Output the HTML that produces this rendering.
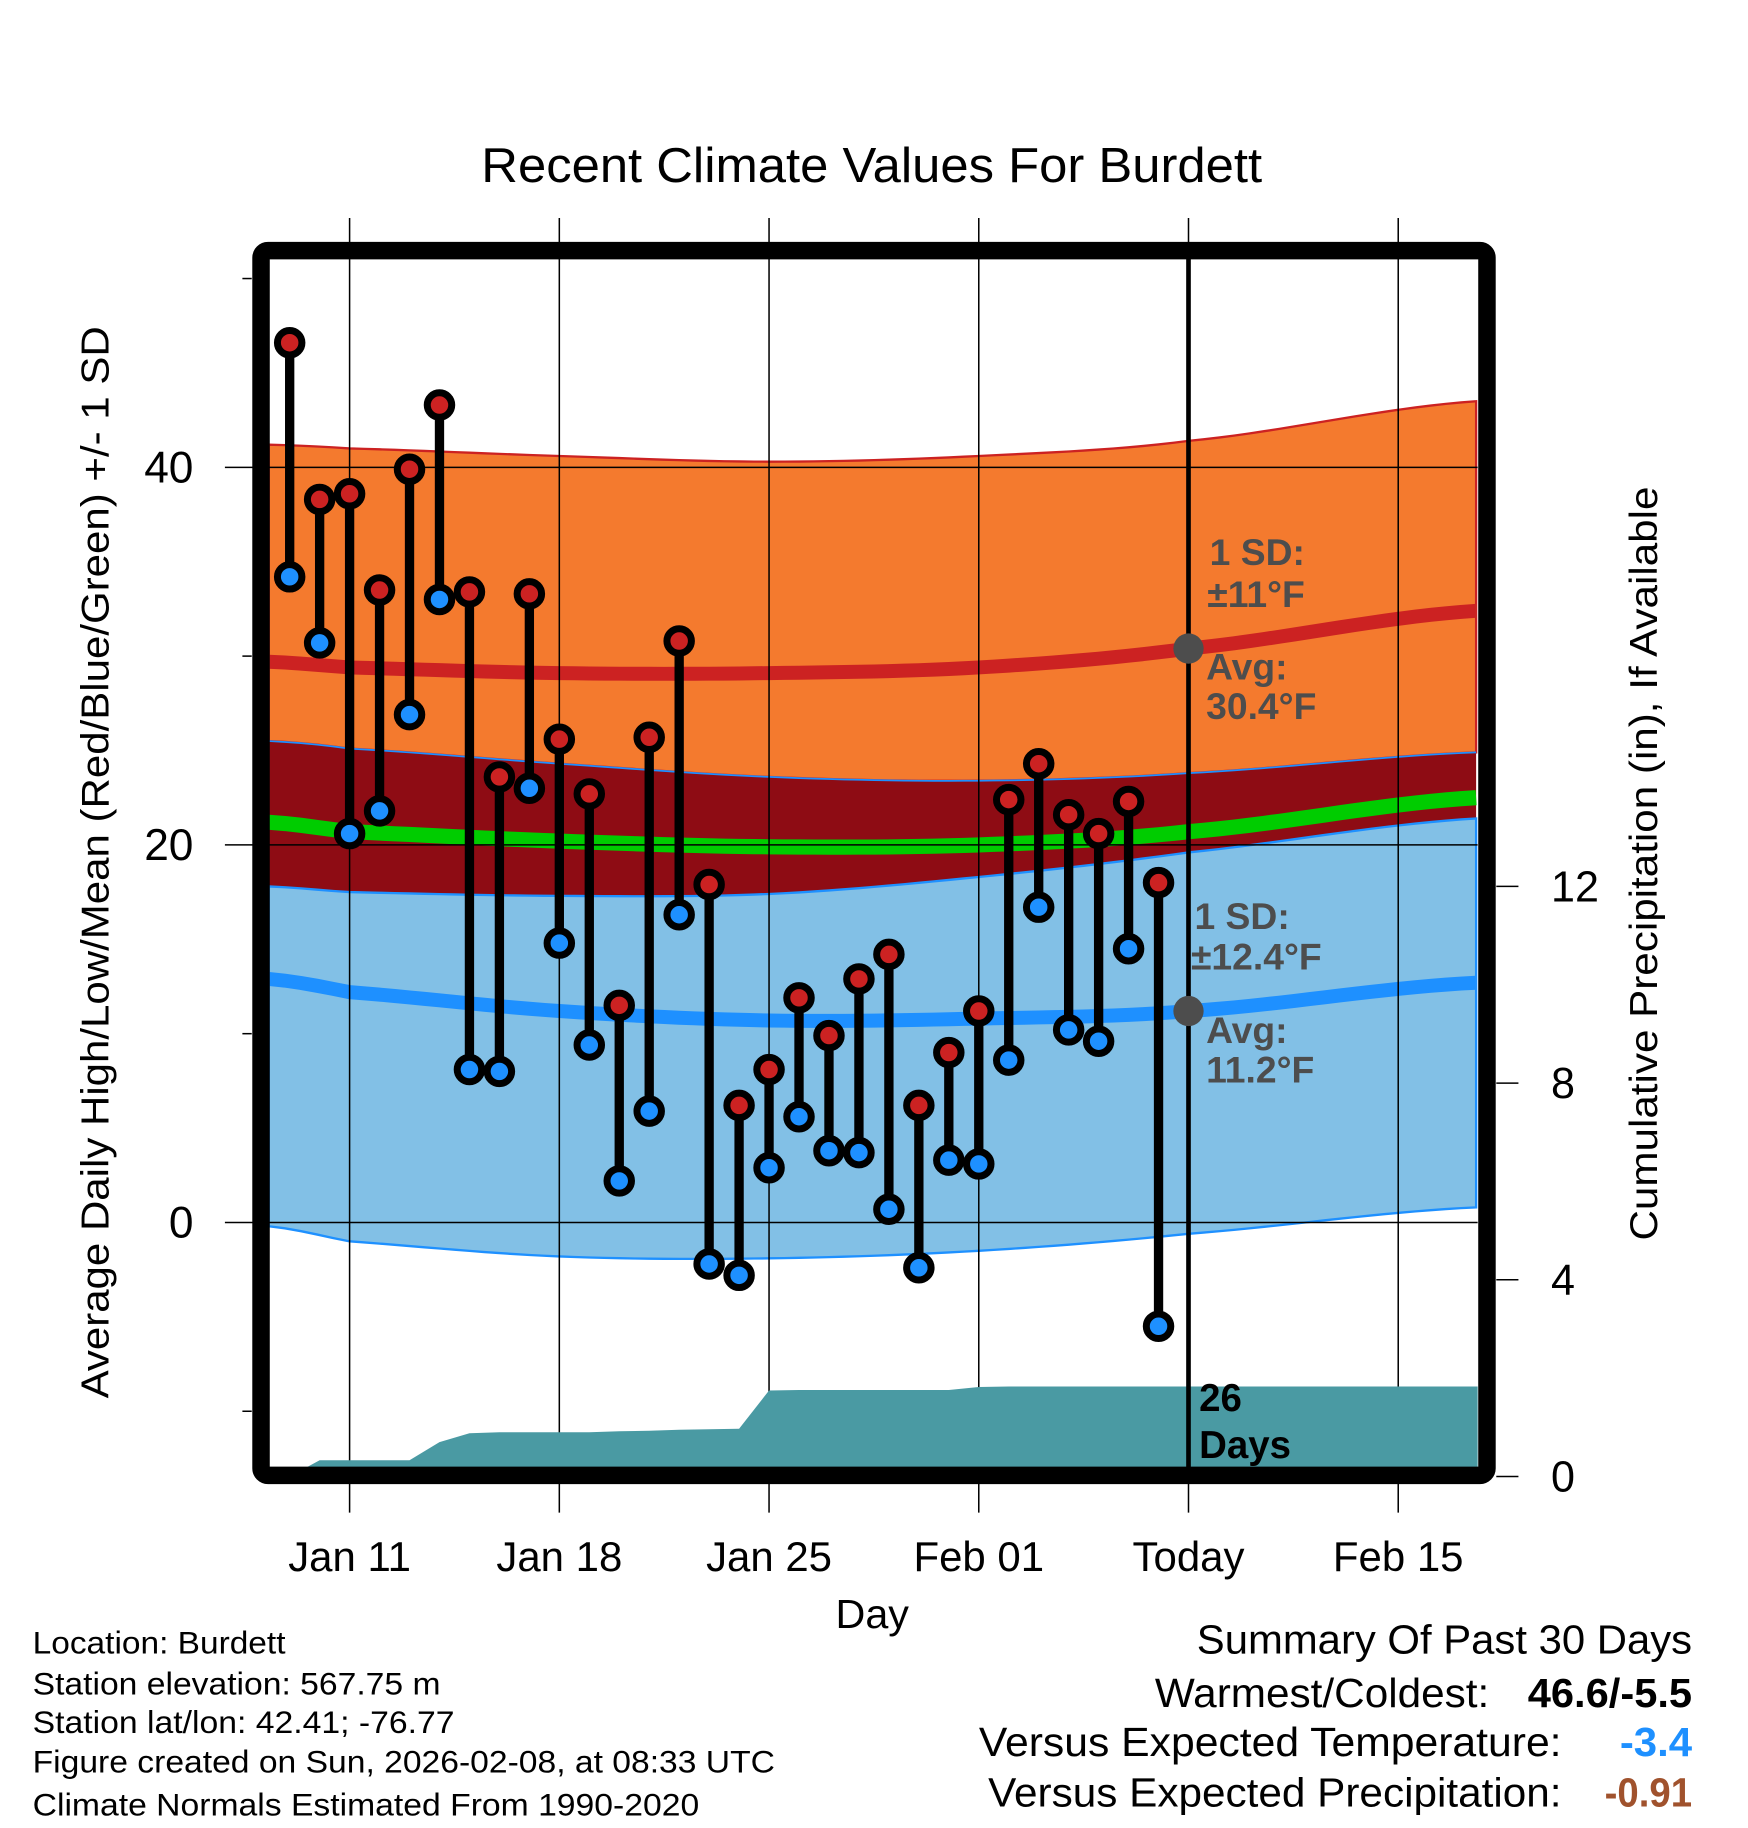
<!DOCTYPE html>
<html><head><meta charset="utf-8"><style>
html,body{margin:0;padding:0;background:#fff}
svg{display:block}
text{font-family:"Liberation Sans",Arial,sans-serif}
</style></head><body>
<svg id="chart" xmlns="http://www.w3.org/2000/svg" width="1748" height="1828" viewBox="0 0 1500 1568.6">
<g id="bands"></g>
<g id="grid"></g>
<g id="precip"></g>
<g id="stems"></g>
<g id="annot"></g>
<rect x="224" y="215" width="1052" height="1051" rx="6" fill="none" stroke="#000" stroke-width="15"/>
<text x="413" y="156" font-size="42" textLength="670" lengthAdjust="spacingAndGlyphs">Recent Climate Values For Burdett</text>
<text transform="translate(93,740) rotate(-90)" font-size="33" text-anchor="middle" textLength="920" lengthAdjust="spacingAndGlyphs">Average Daily High/Low/Mean (Red/Blue/Green) +/- 1 SD</text>
<text transform="translate(1422,741) rotate(-90)" font-size="33" text-anchor="middle" textLength="647" lengthAdjust="spacingAndGlyphs">Cumulative Precipitation (in), If Available</text>
<text x="717" y="1397" font-size="35" textLength="63" lengthAdjust="spacingAndGlyphs">Day</text>
<g id="ticks"></g>
<g font-size="27" lengthAdjust="spacingAndGlyphs">
<text x="28" y="1419" textLength="217" lengthAdjust="spacingAndGlyphs">Location: Burdett</text>
<text x="28" y="1454" textLength="350" lengthAdjust="spacingAndGlyphs">Station elevation: 567.75 m</text>
<text x="28" y="1487" textLength="362" lengthAdjust="spacingAndGlyphs">Station lat/lon: 42.41; -76.77</text>
<text x="28" y="1521" textLength="637" lengthAdjust="spacingAndGlyphs">Figure created on Sun, 2026-02-08, at 08:33 UTC</text>
<text x="28" y="1558" textLength="572" lengthAdjust="spacingAndGlyphs">Climate Normals Estimated From 1990-2020</text>
</g>
<g font-size="35">
<text x="1027" y="1419" textLength="425" lengthAdjust="spacingAndGlyphs">Summary Of Past 30 Days</text>
<text x="991" y="1465" textLength="287" lengthAdjust="spacingAndGlyphs">Warmest/Coldest:</text>
<text x="1311" y="1465" font-weight="bold" textLength="141" lengthAdjust="spacingAndGlyphs">46.6/-5.5</text>
<text x="840" y="1507" textLength="500" lengthAdjust="spacingAndGlyphs">Versus Expected Temperature:</text>
<text x="1390" y="1507" font-weight="bold" fill="#1e90ff" textLength="62" lengthAdjust="spacingAndGlyphs">-3.4</text>
<text x="848" y="1550" textLength="492" lengthAdjust="spacingAndGlyphs">Versus Expected Precipitation:</text>
<text x="1377" y="1550" font-weight="bold" fill="#a0522d" textLength="75" lengthAdjust="spacingAndGlyphs">-0.91</text>
</g>
</svg>
<script>
const days=[-2,-1,0,1,2,3,4,5,6,7,8,9,10,11,12,13,14,15,16,17,18,19,20,21,22,23,24,25,26,27];
const highs=[46.6,38.3,38.6,33.5,39.9,43.3,33.4,23.6,33.3,25.6,22.7,11.5,25.7,30.8,17.9,6.2,8.1,11.9,9.9,12.9,14.2,6.2,9.0,11.2,22.4,24.3,21.6,20.6,22.3,18.0];
const lows=[34.2,30.7,20.6,21.8,26.9,33.0,8.1,8.0,23.0,14.8,9.4,2.2,5.9,16.3,-2.2,-2.8,2.9,5.6,3.8,3.7,0.7,-2.4,3.3,3.1,8.6,16.7,10.2,9.6,14.5,-5.5];
const precip=[0,0.33,0.33,0.33,0.33,0.7,0.88,0.9,0.9,0.9,0.9,0.92,0.93,0.95,0.96,0.97,1.75,1.76,1.76,1.76,1.76,1.76,1.76,1.82,1.83,1.83,1.83,1.83,1.83,1.83];
const normDays=[-2.7,0,7,14,21,28,37.6];
const avgHigh=[29.7,29.4,29.1,29.1,29.4,30.4,32.4];
const highUp=[41.2,41.0,40.6,40.3,40.6,41.4,43.5];
const highDn=[25.5,25.1,24.3,23.6,23.4,23.8,24.9];
const avgMean=[21.2,20.7,20.2,19.9,20.0,20.7,22.5];
const avgLow=[12.9,12.2,11.2,10.7,10.8,11.2,12.7];
const lowUp=[17.8,17.5,17.3,17.4,18.3,19.6,21.4];
const lowDn=[-0.2,-1.0,-1.8,-1.9,-1.5,-0.6,0.8];
const xTickDays=[0,7,14,21,28,35];
const xTickLabels=["Jan 11","Jan 18","Jan 25","Feb 01","Today","Feb 15"];
const yTicks=[0,20,40];
const yMinor=[-10,10,30,50];
const pTicks=[0,4,8,12];
const todayDay=28;

const NS="http://www.w3.org/2000/svg";
const X=d=>300+d*25.71;
const Y=t=>1049-t*16.2;
const P=p=>1267-p*42.2;
const L=231,R=1268,T=222,B=1259;
function mk(tag,attrs,parent){const e=document.createElementNS(NS,tag);for(const k in attrs)e.setAttribute(k,attrs[k]);parent.appendChild(e);return e;}
// smooth through anchor values (Catmull-Rom sampling)
function line(arr){
  const out=[];const n=normDays.length;
  for(let i=0;i<n-1;i++){
    const p0=arr[Math.max(0,i-1)],p1=arr[i],p2=arr[i+1],p3=arr[Math.min(n-1,i+2)];
    const d1=normDays[i],d2=normDays[i+1];
    const steps=Math.max(2,Math.round((d2-d1)*2));
    for(let s=0;s<steps;s++){const t=s/steps;
      const v=0.5*((2*p1)+(-p0+p2)*t+(2*p0-5*p1+4*p2-p3)*t*t+(-p0+3*p1-3*p2+p3)*t*t*t);
      out.push([X(d1+(d2-d1)*t),Y(v)]);}
  }
  out.push([X(normDays[n-1]),Y(arr[n-1])]);
  return out;}
function bandPath(up,dn){const a=line(up),b=line(dn).reverse();return "M"+a.map(p=>p.join(",")).join(" L")+" L"+b.map(p=>p.join(",")).join(" L")+"Z";}
function pl(arr){return line(arr).map(p=>p.join(",")).join(" ");}
const bands=document.getElementById('bands');
let e;
e=mk('path',{d:bandPath(highUp,highDn),fill:'#f47a2e',stroke:'#cc2222','stroke-width':2},bands);


e=mk('path',{d:bandPath(highDn,lowUp),fill:'#8e0c14'},bands);


e=mk('path',{d:bandPath(lowUp,lowDn),fill:'#82c0e6',stroke:'#1e90ff','stroke-width':2},bands);


e=mk('polyline',{points:pl(highDn),fill:'none',stroke:'#1e90ff','stroke-width':1.5},bands);


e=mk('polyline',{points:pl(avgHigh),fill:'none',stroke:'#cc2222','stroke-width':12},bands);


e=mk('polyline',{points:pl(avgMean),fill:'none',stroke:'#00cc00','stroke-width':13},bands);


e=mk('polyline',{points:pl(avgLow),fill:'none',stroke:'#1e90ff','stroke-width':12},bands);



const grid=document.getElementById('grid');
xTickDays.forEach(d=>{e=mk('line',{x1:X(d),x2:X(d),y1:187,y2:1298,stroke:'#000','stroke-width':1.3},grid);

});
yTicks.forEach(t=>{e=mk('line',{x1:193,x2:R,y1:Y(t),y2:Y(t),stroke:'#000','stroke-width':1.3},grid);

});

const pg=document.getElementById('precip');
let pts=[[L,B]];
days.forEach((d,i)=>pts.push([X(d),P(precip[i])]));
pts.push([R,P(precip[precip.length-1])]);pts.push([R,B]);
e=mk('polygon',{points:pts.map(p=>p.join(",")).join(" "),fill:'#4a9aa3'},pg);



const ticks=document.getElementById('ticks');
yTicks.forEach(t=>{e=mk('text',{x:166,y:Y(t)+13,'font-size':38,'text-anchor':'end'},ticks);e.textContent=t;

});
yMinor.forEach(t=>{e=mk('line',{x1:208,x2:216,y1:Y(t),y2:Y(t),stroke:'#000','stroke-width':1.3},ticks);

});
pTicks.forEach(p=>{e=mk('line',{x1:1284,x2:1303,y1:P(p),y2:P(p),stroke:'#000','stroke-width':1.3},ticks);


e=mk('text',{x:1331,y:P(p)+13,'font-size':37},ticks);e.textContent=p;

});
xTickDays.forEach((d,i)=>{e=mk('text',{x:X(d),y:1348,'font-size':36,'text-anchor':'middle'},ticks);e.textContent=xTickLabels[i];

});

const st=document.getElementById('stems');
days.forEach((d,i)=>{const x=X(d);
e=mk('line',{x1:x,x2:x,y1:Y(highs[i]),y2:Y(lows[i]),stroke:'#000','stroke-width':8},st);


e=mk('circle',{cx:x,cy:Y(highs[i]),r:10.5,fill:'#cc2222',stroke:'#000','stroke-width':6},st);


e=mk('circle',{cx:x,cy:Y(lows[i]),r:10.5,fill:'#1e90ff',stroke:'#000','stroke-width':6},st);

});

const an=document.getElementById('annot');
const tx=X(todayDay);
e=mk('line',{x1:tx,x2:tx,y1:T,y2:B+4,stroke:'#000','stroke-width':4},an);


e=mk('circle',{cx:tx,cy:Y(avgHigh[5]),r:13,fill:'#4d4d4d'},an);


e=mk('circle',{cx:tx,cy:Y(avgLow[5]),r:13,fill:'#4d4d4d'},an);


const labs=[[1038,485,"1 SD:"],[1036,521,"±11°F"],[1035,583,"Avg:"],[1035,617,"30.4°F"],[1025,797,"1 SD:"],[1022,832,"±12.4°F"],[1035,895,"Avg:"],[1035,929,"11.2°F"]];
labs.forEach(l=>{e=mk('text',{x:l[0],y:l[1],'font-size':32,'font-weight':'bold',fill:'#4d4d4d'},an);e.textContent=l[2];

});
e=mk('text',{x:1029,y:1211,'font-size':33,'font-weight':'bold'},an);e.textContent="26";


e=mk('text',{x:1029,y:1251,'font-size':33,'font-weight':'bold'},an);e.textContent="Days";


</script>
</body></html>
